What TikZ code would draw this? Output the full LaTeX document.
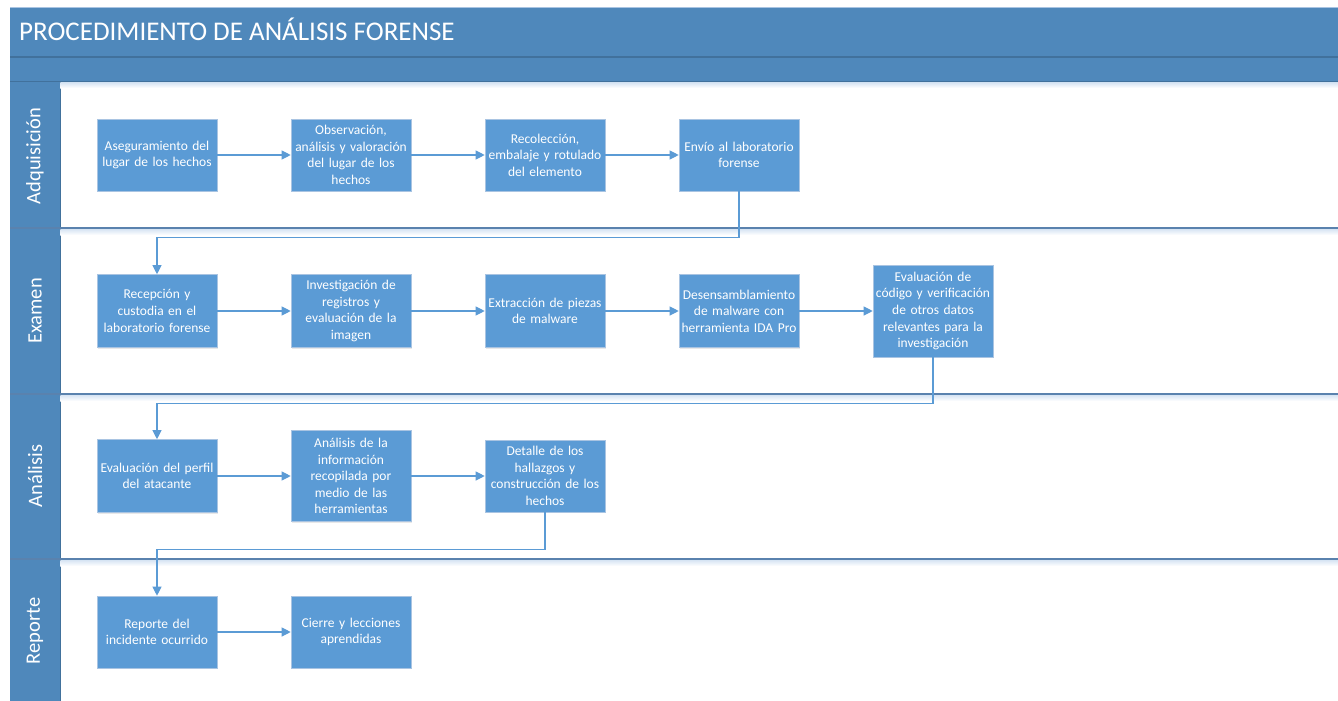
\documentclass[tikz,border=0pt]{standalone}
\usepackage{fontspec}
\setmainfont{Carlito}
\usetikzlibrary{arrows.meta,shadows}
\definecolor{hdr}{HTML}{4F88BB}
\definecolor{hdrdark}{HTML}{41719C}
\definecolor{boxfill}{HTML}{5B9BD5}
\definecolor{boxedge}{HTML}{A9C4E2}
\definecolor{sepline}{HTML}{5A82AE}
\definecolor{sepshadow}{HTML}{D6E4F3}
\begin{document}
\begin{tikzpicture}[x=1pt,y=-1pt,
  box/.style={draw=boxedge, line width=0.6pt, fill=boxfill, text=white,
    minimum width=120pt, text width=120pt, inner sep=0pt, align=center,
    font=\fontsize{13.5}{16.6}\selectfont,
    drop shadow={opacity=0.18, shadow xshift=1.2pt, shadow yshift=-1.2pt}},
  flow/.style={draw=boxfill, line width=1.1pt, -{Triangle[length=9pt,width=9pt]}},
  lanelbl/.style={text=white, rotate=90, font=\fontsize{20.5}{24}\selectfont},
  sep/.style={draw=sepline, line width=1.6pt}
]
\useasboundingbox (0,0) rectangle (1338,701);
\fill[white] (0,0) rectangle (1338,701);
% header
\fill[hdr] (10,8) rectangle (1338,82);
\draw[line width=1pt, draw=boxedge] (10,8) -- (1338,8);
\draw[hdrdark, line width=1.2pt] (10,57) -- (1338,57);
\draw[hdrdark, line width=1.2pt] (10,82) -- (1338,82);
\node[anchor=base west, text=white, font=\fontsize{27}{32}\selectfont, inner sep=0pt] (title) at (19,40.5) {PROCEDIMIENTO DE ANÁLISIS FORENSE};
% lane label column
\fill[hdr] (10,82) rectangle (60,701);
\draw[hdrdark, line width=0.8pt] (60,82) -- (60,701);
% shadows under separators
\shade[top color=sepshadow, bottom color=white] (60.4,82.5) rectangle (1338,88);
\shade[top color=sepshadow, bottom color=white] (60.4,229) rectangle (1338,235);
\shade[top color=sepshadow, bottom color=white] (60.4,395) rectangle (1338,401);
\shade[top color=sepshadow, bottom color=white] (60.4,560) rectangle (1338,566);
% lane separators
\draw[sep] (10,228) -- (1338,228);
\draw[sep] (10,394) -- (1338,394);
\draw[sep] (10,559) -- (1338,559);
% lane labels
\node[lanelbl] (L1) at (35,156) {Adquisición};
\node[lanelbl] (L2) at (35,311) {Examen};
\node[lanelbl] (L3) at (35,476) {Análisis};
\node[lanelbl] (L4) at (35,631) {Reporte};
% Adquisición
\node[box, minimum height=72pt] (A1) at (157,155) {Aseguramiento del\\lugar de los hechos};
\node[box, minimum height=72pt] (A2) at (351,155) {Observación,\\análisis y valoración\\del lugar de los\\hechos};
\node[box, minimum height=72pt] (A3) at (545,155) {Recolección,\\embalaje y rotulado\\del elemento};
\node[box, minimum height=72pt] (A4) at (739,155) {Envío al laboratorio\\forense};
% Examen
\node[box, minimum height=73pt] (E1) at (157,311) {Recepción y\\custodia en el\\laboratorio forense};
\node[box, minimum height=73pt] (E2) at (351,311) {Investigación de\\registros y\\evaluación de la\\imagen};
\node[box, minimum height=73pt] (E3) at (545,311) {Extracción de piezas\\de malware};
\node[box, minimum height=73pt] (E4) at (739,311) {Desensamblamiento\\de malware con\\herramienta IDA Pro};
\node[box, minimum height=92pt] (E5) at (933,311) {Evaluación de\\código y verificación\\de otros datos\\relevantes para la\\investigación};
% Análisis
\node[box, minimum height=73pt] (N1) at (157,476) {Evaluación del perfil\\del atacante};
\node[box, minimum height=91pt] (N2) at (351,476) {Análisis de la\\información\\recopilada por\\medio de las\\herramientas};
\node[box, minimum height=72pt] (N3) at (545,476) {Detalle de los\\hallazgos y\\construcción de los\\hechos};
% Reporte
\node[box, minimum height=72pt] (R1) at (157,632) {Reporte del\\incidente ocurrido};
\node[box, minimum height=72pt] (R2) at (351,632) {Cierre y lecciones\\aprendidas};
% connectors
\draw[flow] (A1) -- (A2);
\draw[flow] (A2) -- (A3);
\draw[flow] (A3) -- (A4);
\draw[flow] (A4.south) -- ++(0,46) -| (E1.north);
\draw[flow] (E1) -- (E2);
\draw[flow] (E2) -- (E3);
\draw[flow] (E3) -- (E4);
\draw[flow] (E4) -- (E5);
\draw[flow] (E5.south) -- ++(0,46) -| (N1.north);
\draw[flow] (N1) -- (N2);
\draw[flow] (N2) -- (N3);
\draw[flow] (N3.south) -- ++(0,37) -| (R1.north);
\draw[flow] (R1) -- (R2);
\end{tikzpicture}
\end{document}
